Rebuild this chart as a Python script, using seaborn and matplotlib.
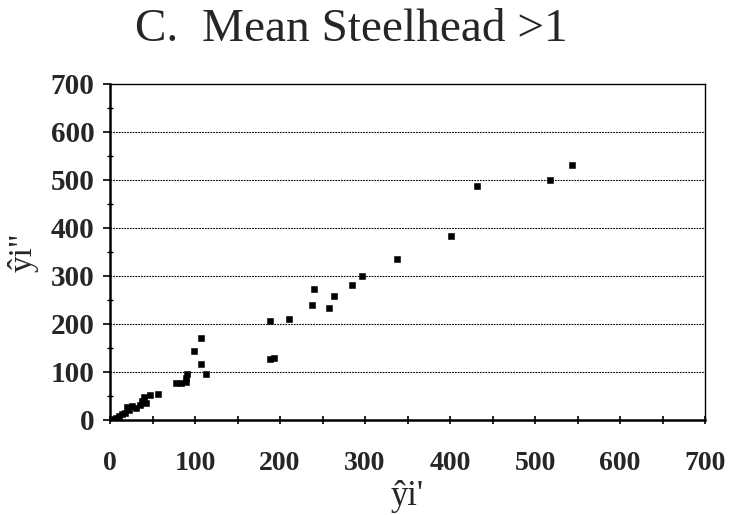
import matplotlib
matplotlib.use("Agg")
import matplotlib.pyplot as plt
from matplotlib.ticker import MultipleLocator
import seaborn as sns
import pandas as pd

x_vals = [543, 518, 432, 401, 338, 296, 285, 240, 263, 238, 258, 211, 188,
          188, 193, 107, 99, 107, 113,
          78, 84, 89, 89, 90,
          47, 57,
          3, 7, 11, 14, 18, 22, 20, 26, 30, 35, 38, 42, 40]
y_vals = [531, 500, 488, 384, 335, 300, 281, 272, 258, 240, 234, 211, 207,
          128, 129, 171, 143, 117, 95,
          77, 78, 80, 88, 96,
          52, 54,
          2, 5, 8, 12, 14, 20, 27, 30, 24, 32, 40, 36, 48]

title = "C.  Mean Steelhead >1"
x_label = "ŷi'"
y_label = 'ŷi"'
ticks = [0, 100, 200, 300, 400, 500, 600, 700]

df = pd.DataFrame({"x": x_vals, "y": y_vals})

sns.set_theme(style="white")
plt.rcParams["font.family"] = ["Liberation Serif", "DejaVu Serif"]

fig = plt.figure(figsize=(7.29, 5.15), dpi=100)
ax = fig.add_axes([110 / 729, 1 - 420 / 515, 595 / 729, 336 / 515])

sns.scatterplot(data=df, x="x", y="y", ax=ax, marker="s", s=25,
                color="black", edgecolor="black", linewidth=0.4, zorder=3)

ax.set_xlim(0, 700)
ax.set_ylim(0, 700)
ax.set_xticks(ticks)
ax.set_yticks(ticks)
ax.xaxis.set_minor_locator(MultipleLocator(50))
ax.yaxis.set_minor_locator(MultipleLocator(50))
ax.set_xticklabels([str(t) for t in ticks], fontsize=20, fontweight="bold")
ax.set_yticklabels([str(t) for t in ticks], fontsize=21, fontweight="bold")
ax.tick_params(axis="x", which="both", direction="inout", color="black",
               width=1.2, bottom=True, length=6, pad=19)
ax.tick_params(axis="y", which="major", direction="out", color="black",
               width=1.2, left=True, length=5, pad=6)
ax.tick_params(axis="y", which="minor", direction="inout", color="black",
               width=1.0, left=True, length=4)

for v in ticks[1:-1]:
    ax.axhline(v, color="black", linestyle=(0, (1.5, 1)), linewidth=0.8, zorder=1)

for side in ["left", "bottom"]:
    ax.spines[side].set_linewidth(1.8)
    ax.spines[side].set_color("black")
for side in ["top", "right"]:
    ax.spines[side].set_linewidth(1.0)
    ax.spines[side].set_color("black")

ax.set_xlabel(x_label, fontsize=25, labelpad=3)
ax.set_ylabel(y_label, fontsize=24, labelpad=9)

fig.text(351 / 729, 1 - 30 / 515, title, fontsize=34, ha="center", va="center")

fig.savefig("out.png", dpi=100, facecolor="white")
